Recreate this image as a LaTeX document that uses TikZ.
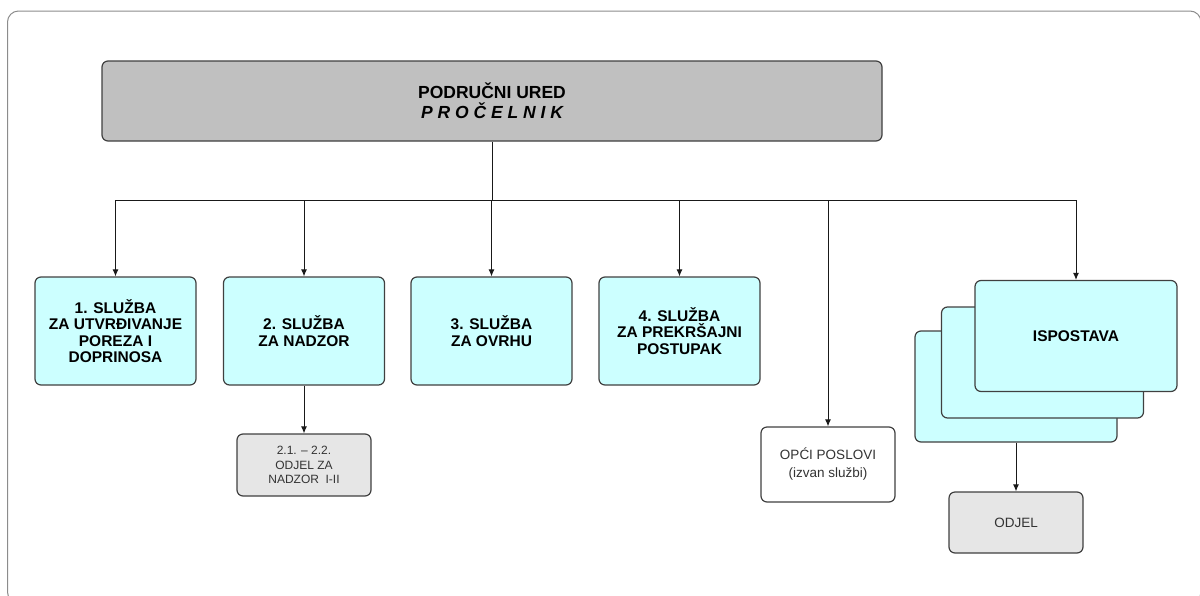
\documentclass[tikz,border=0pt]{standalone}
\usepackage{fontspec}
\setmainfont{Liberation Sans}
\usetikzlibrary{arrows.meta}
\definecolor{sluzbafill}{HTML}{CCFFFF}
\definecolor{uredfill}{HTML}{C0C0C0}
\definecolor{odjelfill}{HTML}{E6E6E6}
\definecolor{rubline}{HTML}{404040}
\tikzset{
	ured/.style={draw=rubline, line width=1.2pt, fill=uredfill, rounded corners=6pt, minimum width=780pt, minimum height=80pt, align=center, font=\fontsize{17.5}{20}\selectfont\bfseries},
	sluzba/.style={draw=rubline, line width=1.2pt, fill=sluzbafill, rounded corners=6pt, minimum width=161pt, minimum height=108pt, align=center, font=\fontsize{15.5}{16.5}\selectfont\bfseries},
	ispostava/.style={draw=rubline, line width=1.2pt, fill=sluzbafill, rounded corners=6pt, minimum width=202pt, minimum height=111pt},
	odjel/.style={draw=rubline, line width=1.2pt, fill=odjelfill, rounded corners=6pt, minimum width=134pt, align=center, text=black!80},
	veza/.style={line width=1pt, draw=black!90, -{Latex[length=7pt,width=6pt]}}
}

\begin{document}
\begin{tikzpicture}[x=1pt, y=-1pt]
			%%%%% START %%%%%
			
			\useasboundingbox (0, 0) rectangle (1200, 595);
			\begin{scope}
				\clip (0, 0) rectangle (1200, 595);
				\draw[line width=1pt, color=black!45, rounded corners=11pt] (7.5, 11) rectangle (1201, 603);
			\end{scope}
			
			\node[ured] (ured) at (492, 101) {PODRUČNI URED\\\itshape P R O Č E L N I K};
			\coordinate (bus) at (492, 200);
			
			\node[sluzba] (s1) at (115.5, 331) {1. SLUŽBA\\ZA UTVRĐIVANJE\\POREZA I\\DOPRINOSA};
			\node[sluzba] (s2) at (304, 331) {2. SLUŽBA\\ZA NADZOR};
			\node[sluzba] (s3) at (491.5, 331) {3. SLUŽBA\\ZA OVRHU};
			\node[sluzba] (s4) at (679.5, 331) {4. SLUŽBA\\ZA PREKRŠAJNI\\POSTUPAK};
			
			\node[odjel, minimum height=62pt, font=\fontsize{12}{14.5}\selectfont] (nadzor) at (304, 465) {2.1. – 2.2.\\ODJEL ZA\\NADZOR\ \ I-II};
			\node[odjel, fill=white, minimum height=75pt, font=\fontsize{13.5}{18}\selectfont] (opci) at (828, 464.5) {OPĆI POSLOVI\\(izvan službi)};
			
			\node[ispostava] (isp3) at (1016, 386.5) {};
			\node[ispostava] (isp2) at (1042.5, 362.5) {};
			\node[ispostava, font=\fontsize{15.5}{16.5}\selectfont\bfseries] (isp1) at (1076, 336) {ISPOSTAVA};
			
			\node[odjel, minimum height=61pt, font=\fontsize{13.5}{18}\selectfont] (odjel) at (1016, 522.5) {ODJEL};
			
			\draw[line width=1pt, draw=black!90] (ured.south) -- (bus);
			\foreach \cilj in {s1, s2, s3, s4, opci, isp1}
				\draw[veza] (bus) -| (\cilj.north);
			
			\draw[veza] (s2.south) -- (nadzor.north);
			\draw[veza] (isp3.south) -- (odjel.north);
			
			%%%%% END %%%%%
\end{tikzpicture}
\end{document}
